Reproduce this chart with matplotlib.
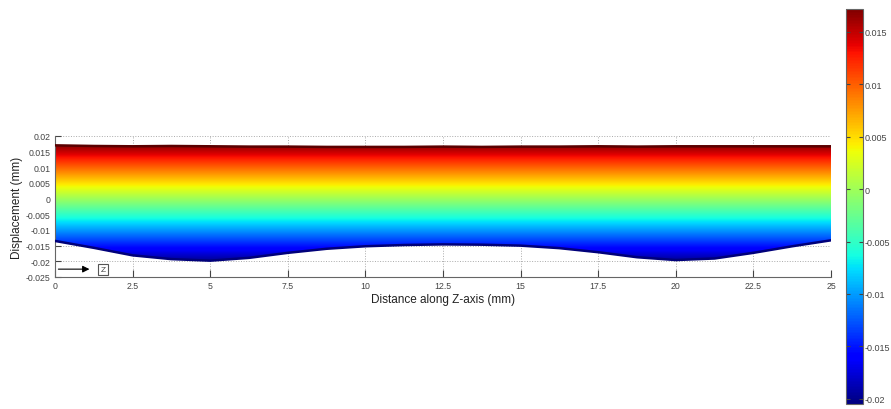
import numpy as np
import matplotlib
matplotlib.use('Agg')
import matplotlib.pyplot as plt
from matplotlib import cm
from matplotlib.colors import Normalize

plt.rcParams['font.family'] = ['Liberation Sans', 'DejaVu Sans']

# outline of the displacement point cloud along the specimen (mm)
z_pos = [0, 1.25, 2.5, 3.75, 5, 6.25, 7.5, 8.75, 10, 11.25, 12.5, 13.75,
         15, 16.25, 17.5, 18.75, 20, 21.25, 22.5, 23.75, 25]
disp_top = [0.0170, 0.0168, 0.0167, 0.0168, 0.0167, 0.0166, 0.0166, 0.0165,
            0.0165, 0.0165, 0.0166, 0.0165, 0.0166, 0.0166, 0.0167, 0.0166,
            0.0167, 0.0167, 0.0167, 0.0167, 0.0167]
disp_bottom = [-0.0135, -0.0157, -0.0181, -0.0193, -0.0198, -0.0189, -0.0173,
               -0.0160, -0.0152, -0.0148, -0.0146, -0.0147, -0.0150, -0.0158,
               -0.0171, -0.0187, -0.0196, -0.0191, -0.0173, -0.0152, -0.0133]
c_min, c_max = -0.0205, 0.0172

x_ticks = [0, 2.5, 5, 7.5, 10, 12.5, 15, 17.5, 20, 22.5, 25]
x_labels = ['0', '2.5', '5', '7.5', '10', '12.5', '15', '17.5', '20', '22.5', '25']
y_ticks = [-0.025, -0.02, -0.015, -0.01, -0.005, 0, 0.005, 0.01, 0.015, 0.02]
y_labels = ['-0.025', '-0.02', '-0.015', '-0.01', '-0.005', '0', '0.005', '0.01', '0.015', '0.02']
cb_ticks = [-0.02, -0.015, -0.01, -0.005, 0, 0.005, 0.01, 0.015]
cb_labels = ['-0.02', '-0.015', '-0.01', '-0.005', '0', '0.005', '0.01', '0.015']

fig = plt.figure(figsize=(8.91, 4.10), dpi=100)
ax = fig.add_axes([0.0617, 0.322, 0.8710, 0.344])
norm = Normalize(vmin=c_min, vmax=c_max)

# colour by displacement value, clipped to the point cloud outline
grad = np.linspace(c_min, c_max, 400).reshape(-1, 1)
img = ax.imshow(grad, cmap=cm.jet, norm=norm, origin='lower', aspect='auto',
                extent=[0, 25, c_min, c_max], interpolation='bilinear', zorder=2)
band = ax.fill_between(z_pos, disp_bottom, disp_top, color='none', lw=0)
img.set_clip_path(band.get_paths()[0], transform=ax.transData)
ax.plot(z_pos, disp_top, color='#5a0000', lw=1.8, zorder=3)
ax.plot(z_pos, disp_bottom, color='#00007a', lw=1.8, zorder=3)

ax.set_xlim(0, 25)
ax.set_ylim(-0.025, 0.02)
ax.set_xticks(x_ticks)
ax.set_xticklabels(x_labels)
ax.set_yticks(y_ticks)
ax.set_yticklabels(y_labels)
ax.tick_params(direction='in', length=4, labelsize=6.3, colors='#444444', pad=3)
ax.tick_params(axis='x', length=5)
ax.grid(True, ls=':', color='#aaaaaa', lw=0.7)
ax.set_axisbelow(True)
for s in ['top', 'right']:
    ax.spines[s].set_visible(False)
for s in ['left', 'bottom']:
    ax.spines[s].set_color('#666666')
ax.set_xlabel('Distance along Z-axis (mm)', fontsize=8.5, labelpad=2, color='#222222')
ax.set_ylabel('Displacement (mm)', fontsize=8.5, labelpad=2, color='#222222')

# Z direction marker
ax.annotate('', xy=(1.2, -0.0225), xytext=(0.02, -0.0225),
            arrowprops=dict(arrowstyle='-|>', color='black', lw=0.8))
ax.text(1.55, -0.0225, 'Z', fontsize=6, ha='center', va='center', color='#444444',
        bbox=dict(boxstyle='square,pad=0.25', fc='white', ec='#555555', lw=0.8))

cax = fig.add_axes([0.9495, 0.012, 0.019, 0.964])
cb = fig.colorbar(cm.ScalarMappable(norm=norm, cmap=cm.jet), cax=cax)
cb.set_ticks(cb_ticks)
cb.set_ticklabels(cb_labels)
cb.outline.set_edgecolor('#666666')
cax.tick_params(direction='in', length=3, labelsize=6.5, colors='#444444', pad=1,
                left=True)

fig.savefig('out.png', dpi=100)
